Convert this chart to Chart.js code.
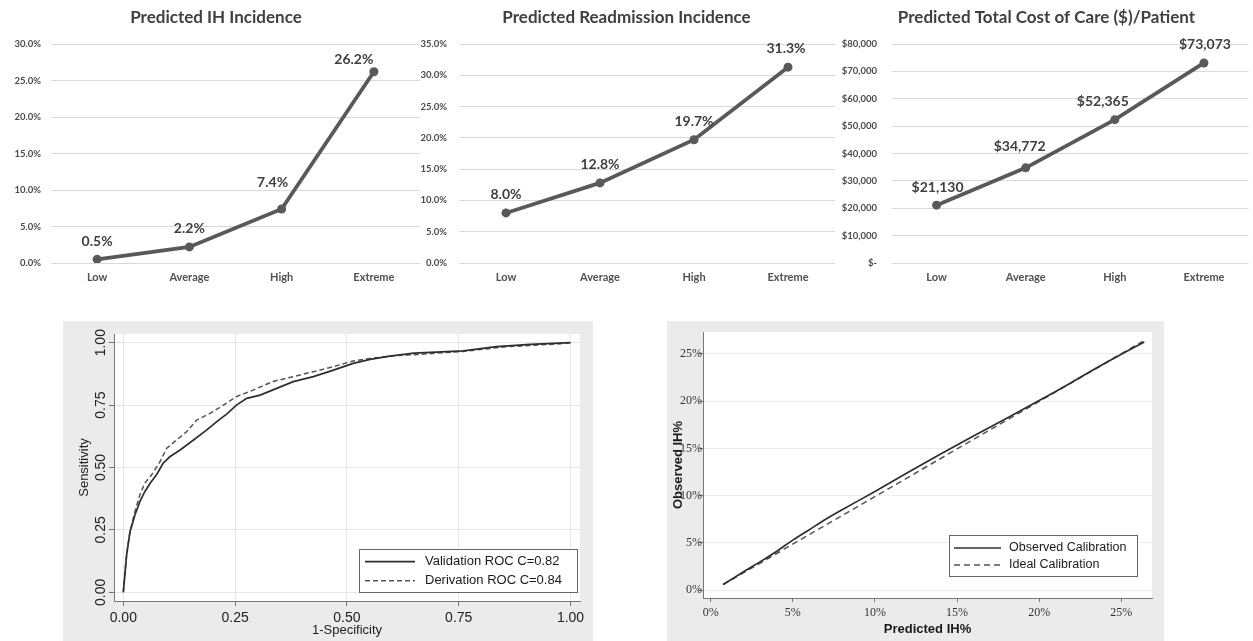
<!DOCTYPE html>
<html>
<head>
<meta charset="utf-8">
<script src="https://cdn.jsdelivr.net/npm/chart.js@4.4.1/dist/chart.umd.min.js"></script>
<style>
  html, body { margin:0; padding:0; background:#ffffff; width:1253px; height:641px; overflow:hidden; }
  canvas { position:absolute; display:block; }
  .panel { position:absolute; background:#ebebeb; }
</style>
</head>
<body>
<div class="panel" style="left:63px;top:321px;width:530px;height:320px;"></div>
<div class="panel" style="left:667px;top:321px;width:497px;height:320px;"></div>
<canvas id="cIH" width="436" height="293" style="left:0px;top:0px;"></canvas>
<canvas id="cReadmit" width="430" height="293" style="left:410px;top:0px;"></canvas>
<canvas id="cCost" width="423" height="293" style="left:830px;top:0px;"></canvas>
<canvas id="cROC" width="530" height="320" style="left:63px;top:321px;"></canvas>
<canvas id="cCalib" width="497" height="320" style="left:667px;top:321px;"></canvas>
<script>
// ---------------- DATA ----------------
const riskCategories = ['Low', 'Average', 'High', 'Extreme'];
const ihIncidence = [0.5, 2.2, 7.4, 26.2];
const readmissionIncidence = [8.0, 12.8, 19.7, 31.3];
const costPerPatient = [21130, 34772, 52365, 73073];

const ihTicks = [0, 5, 10, 15, 20, 25, 30];
const readmitTicks = [0, 5, 10, 15, 20, 25, 30, 35];
const costTicks = [0, 10000, 20000, 30000, 40000, 50000, 60000, 70000, 80000];

const rocValidationFpr = [0, 0.0075, 0.015, 0.026, 0.037, 0.048, 0.06, 0.075, 0.089, 0.104, 0.127, 0.157, 0.186, 0.209, 0.231, 0.253, 0.276, 0.306, 0.343, 0.38, 0.425, 0.47, 0.514, 0.552, 0.596, 0.65, 0.76, 0.835, 0.91, 1.0];
const rocValidationTpr = [0, 0.15, 0.243, 0.31, 0.363, 0.403, 0.437, 0.473, 0.517, 0.543, 0.57, 0.61, 0.65, 0.684, 0.714, 0.75, 0.777, 0.79, 0.817, 0.844, 0.864, 0.89, 0.917, 0.933, 0.946, 0.958, 0.967, 0.984, 0.993, 1.0];
const rocDerivationFpr = [0, 0.0075, 0.015, 0.026, 0.037, 0.048, 0.063, 0.082, 0.097, 0.119, 0.142, 0.164, 0.194, 0.224, 0.253, 0.29, 0.335, 0.38, 0.425, 0.47, 0.514, 0.552, 0.6, 0.65, 0.76, 0.85, 0.92, 0.97, 1.0];
const rocDerivationTpr = [0, 0.156, 0.243, 0.323, 0.39, 0.437, 0.47, 0.523, 0.577, 0.61, 0.644, 0.69, 0.717, 0.75, 0.784, 0.81, 0.845, 0.864, 0.884, 0.904, 0.927, 0.937, 0.947, 0.952, 0.965, 0.983, 0.99, 0.995, 1.0];
const rocTicks = [0, 0.25, 0.5, 0.75, 1.0];

const calibObservedPred = [0.75, 2, 3, 4, 5, 6, 7, 8, 10, 12, 14, 16, 18, 20, 22, 24, 26.4];
const calibObservedObs  = [0.6, 1.95, 3.0, 4.1, 5.3, 6.4, 7.5, 8.5, 10.45, 12.45, 14.4, 16.3, 18.15, 20.05, 22.0, 24.0, 26.25];
const calibIdealPred = [0.75, 26.3];
const calibIdealObs  = [0.6, 26.3];
const calibTicks = [0, 5, 10, 15, 20, 25];

// ---------------- HELPERS ----------------
const pts = (xs, ys) => xs.map((x, i) => ({ x: x, y: ys[i] }));
const fmtPct1 = v => v.toFixed(1) + '%';
const fmtMoney = v => v === 0 ? '$-' : '$' + v.toLocaleString('en-US');

function valueLabelPlugin(fmt, dx, dy) {
  return {
    id: 'valueLabels',
    afterDatasetsDraw(chart) {
      const meta = chart.getDatasetMeta(0);
      const vals = chart.data.datasets[0].data;
      const ctx = chart.ctx;
      ctx.save();
      ctx.font = 'bold 14px Lato';
      ctx.fillStyle = '#404040';
      ctx.textAlign = 'center';
      ctx.textBaseline = 'middle';
      meta.data.forEach((p, i) => {
        ctx.fillText(fmt(vals[i]), p.x + dx[i], p.y + dy[i]);
      });
      ctx.restore();
    }
  };
}

function topChart(id, title, values, ticks, fmtTick, fmtLabel, st) {
  return new Chart(document.getElementById(id), {
    type: 'line',
    data: {
      labels: riskCategories,
      datasets: [{
        data: values,
        borderColor: '#595959',
        backgroundColor: '#595959',
        borderWidth: 3.8,
        pointRadius: 4.5,
        pointBackgroundColor: '#595959',
        pointBorderWidth: 0,
        tension: 0
      }]
    },
    options: {
      responsive: false,
      animation: false,
      events: [],
      layout: { padding: { left: st.padLeft, right: st.padRight, top: 0, bottom: 0 } },
      plugins: {
        legend: { display: false },
        tooltip: { enabled: false },
        title: {
          display: true, text: title, color: '#404040',
          font: { family: 'Lato', size: 17, weight: 'bold', lineHeight: 1.2 },
          padding: { top: 7, bottom: 16.6 }
        }
      },
      scales: {
        x: {
          type: 'category', offset: true,
          grid: { display: false, drawTicks: false },
          border: { display: false },
          ticks: { color: '#505050', font: { family: 'Lato', size: 11, weight: 'bold' }, padding: 8, maxRotation: 0 },
          afterFit(s) { s.height = 30; }
        },
        y: {
          min: ticks[0], max: ticks[ticks.length - 1],
          afterBuildTicks(s) { s.ticks = ticks.map(v => ({ value: v })); },
          grid: { color: '#d9d9d9', lineWidth: 1, drawTicks: false },
          border: { display: false },
          ticks: { color: '#4a4a4a', font: { family: 'Lato', size: 9.5, weight: 'bold' }, padding: st.tickPad, autoSkip: false, callback: fmtTick },
          afterFit(s) { s.width = st.yWidth; }
        }
      }
    },
    plugins: [valueLabelPlugin(fmtLabel, st.dx, st.dy)]
  });
}

const whiteArea = {
  id: 'whiteArea',
  beforeDraw(chart) {
    const a = chart.chartArea, ctx = chart.ctx;
    ctx.save();
    ctx.fillStyle = '#ffffff';
    ctx.fillRect(a.left, a.top, a.right - a.left, a.bottom - a.top);
    ctx.restore();
  }
};

function boxLegend(cfg) {
  return {
    id: 'boxLegend',
    afterDraw(chart) {
      const a = chart.chartArea, ctx = chart.ctx;
      const right = a.right - cfg.rightOff, bottom = a.bottom - cfg.bottomOff;
      const left = right - cfg.w, top = bottom - cfg.h;
      ctx.save();
      ctx.fillStyle = '#ffffff';
      ctx.fillRect(left, top, cfg.w, cfg.h);
      ctx.strokeStyle = '#666666';
      ctx.lineWidth = 1;
      ctx.strokeRect(Math.round(left) + 0.5, Math.round(top) + 0.5, cfg.w, cfg.h);
      ctx.font = cfg.font;
      ctx.textAlign = 'left';
      ctx.textBaseline = 'middle';
      chart.data.datasets.forEach((ds, i) => {
        const y = top + cfg.rows[i];
        ctx.beginPath();
        ctx.setLineDash(ds.borderDash || []);
        ctx.strokeStyle = ds.borderColor;
        ctx.lineWidth = ds.borderWidth;
        ctx.moveTo(left + cfg.lineFrom, y);
        ctx.lineTo(left + cfg.lineTo, y);
        ctx.stroke();
        ctx.setLineDash([]);
        ctx.fillStyle = '#1a1a1a';
        ctx.fillText(ds.label, left + cfg.textX, y);
      });
      ctx.restore();
    }
  };
}

// ---------------- TOP ROW ----------------
topChart('cIH', 'Predicted IH Incidence', ihIncidence, ihTicks, fmtPct1, fmtPct1,
  { padLeft: 12, padRight: 16, yWidth: 39, tickPad: 10, dx: [0, 0, -9, -20], dy: [-18, -18, -26, -12] });
topChart('cReadmit', 'Predicted Readmission Incidence', readmissionIncidence, readmitTicks, fmtPct1, fmtPct1,
  { padLeft: 8, padRight: 5, yWidth: 41, tickPad: 12, dx: [0, 0, 0, -2], dy: [-18, -18, -18, -19] });
topChart('cCost', 'Predicted Total Cost of Care ($)/Patient', costPerPatient, costTicks, fmtMoney, fmtMoney,
  { padLeft: 10, padRight: 0, yWidth: 52, tickPad: 15, dx: [1, -6, -12, 1], dy: [-18, -21, -18, -18] });

// ---------------- ROC ----------------
new Chart(document.getElementById('cROC'), {
  type: 'line',
  data: {
    datasets: [
      { label: 'Validation ROC C=0.82', data: pts(rocValidationFpr, rocValidationTpr), borderColor: '#2e2e2e', borderWidth: 1.7, pointRadius: 0, tension: 0 },
      { label: 'Derivation ROC C=0.84', data: pts(rocDerivationFpr, rocDerivationTpr), borderColor: '#555555', borderWidth: 1.5, borderDash: [5, 3], pointRadius: 0, tension: 0 }
    ]
  },
  options: {
    responsive: false, animation: false, events: [],
    layout: { padding: { left: 0, right: 13, top: 13, bottom: 0 } },
    plugins: { legend: { display: false }, tooltip: { enabled: false }, title: { display: false } },
    scales: {
      x: {
        type: 'linear', min: -0.0208, max: 1.0212,
        afterBuildTicks(s) { s.ticks = rocTicks.map(v => ({ value: v })); },
        grid: { color: '#e6e6e6', tickColor: '#777777', tickLength: 5 },
        border: { color: '#777777', width: 1 },
        ticks: { color: '#222222', font: { family: 'Liberation Sans', size: 14 }, padding: 4, maxRotation: 0, autoSkip: false, callback: v => v.toFixed(2) },
        title: { display: true, text: '1-Specificity', color: '#222222', font: { family: 'Liberation Sans', size: 13 }, padding: { top: 0, bottom: 3 } },
        afterFit(s) { s.height = 40; }
      },
      y: {
        type: 'linear', min: -0.0349, max: 1.0349,
        afterBuildTicks(s) { s.ticks = rocTicks.map(v => ({ value: v })); },
        grid: { color: '#e6e6e6', tickColor: '#777777', tickLength: 5 },
        border: { color: '#777777', width: 1 },
        ticks: { color: '#222222', font: { family: 'Liberation Sans', size: 14 }, padding: -6, minRotation: 90, maxRotation: 90, crossAlign: 'center', autoSkip: false, callback: v => v.toFixed(2) },
        title: { display: true, text: 'Sensitivity', color: '#222222', font: { family: 'Liberation Sans', size: 13 }, padding: { top: 14, bottom: 0 } },
        afterFit(s) { s.width = 51; }
      }
    }
  },
  plugins: [whiteArea, boxLegend({ rightOff: 3, bottomOff: 9, w: 218, h: 43, lineFrom: 6, lineTo: 56, textX: 66, rows: [12.7, 31.7], font: '13px "Liberation Sans"' })]
});

// ---------------- CALIBRATION ----------------
new Chart(document.getElementById('cCalib'), {
  type: 'line',
  data: {
    datasets: [
      { label: 'Observed Calibration', data: pts(calibObservedPred, calibObservedObs), borderColor: '#2e2e2e', borderWidth: 1.7, pointRadius: 0, tension: 0.2 },
      { label: 'Ideal Calibration', data: pts(calibIdealPred, calibIdealObs), borderColor: '#555555', borderWidth: 1.5, borderDash: [6, 4], pointRadius: 0, tension: 0 }
    ]
  },
  options: {
    responsive: false, animation: false, events: [],
    layout: { padding: { left: 0, right: 12, top: 11, bottom: 0 } },
    plugins: { legend: { display: false }, tooltip: { enabled: false }, title: { display: false } },
    scales: {
      x: {
        type: 'linear', min: -0.47, max: 26.87,
        afterBuildTicks(s) { s.ticks = calibTicks.map(v => ({ value: v })); },
        grid: { drawOnChartArea: false, color: '#777777', tickColor: '#777777', tickLength: 4 },
        border: { color: '#777777', width: 1 },
        ticks: { color: '#333333', font: { family: 'Liberation Serif', size: 12 }, padding: 4, maxRotation: 0, autoSkip: false, callback: v => v + '%' },
        title: { display: true, text: 'Predicted IH%', color: '#1a1a1a', font: { family: 'Liberation Sans', size: 13, weight: 'bold' }, padding: { top: 0, bottom: 4 } },
        afterFit(s) { s.height = 43; }
      },
      y: {
        type: 'linear', min: -0.82, max: 27.3,
        afterBuildTicks(s) { s.ticks = calibTicks.map(v => ({ value: v })); },
        grid: { color: '#ececec', tickColor: '#777777', tickLength: 4 },
        border: { color: '#777777', width: 1 },
        ticks: { color: '#333333', font: { family: 'Liberation Serif', size: 12 }, padding: -3, autoSkip: false, callback: v => v + '%' },
        title: { display: true, text: 'Observed IH%', color: '#1a1a1a', font: { family: 'Liberation Sans', size: 13, weight: 'bold' }, padding: { top: 4, bottom: 0 } },
        afterFit(s) { s.width = 36; }
      }
    }
  },
  plugins: [whiteArea, boxLegend({ rightOff: 15, bottomOff: 22, w: 188, h: 41, lineFrom: 5, lineTo: 52, textX: 60, rows: [13, 30], font: '12.5px "Liberation Sans"' })]
});
</script>
</body>
</html>
